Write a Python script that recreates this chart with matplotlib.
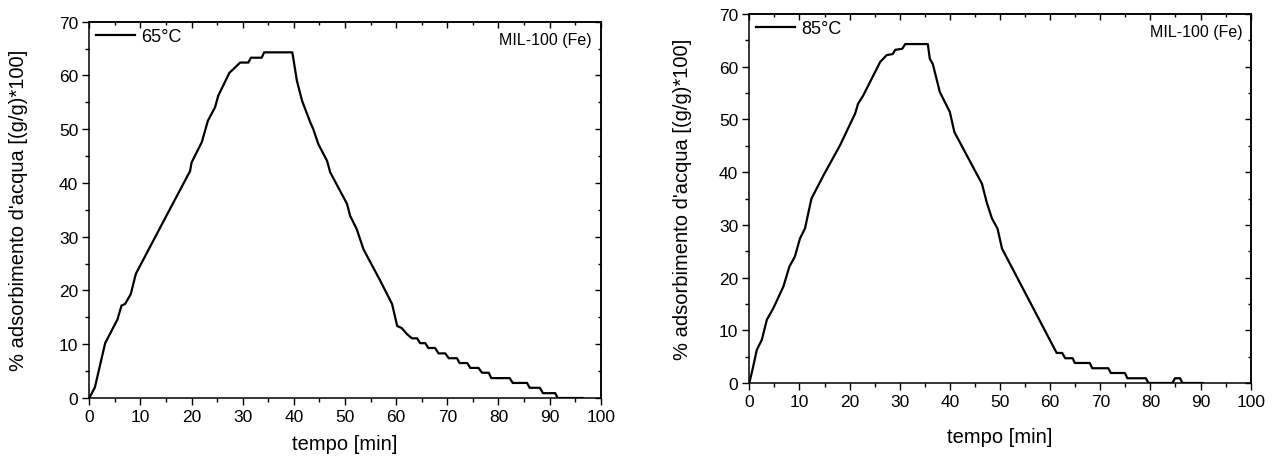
import matplotlib
matplotlib.use("Agg")
import matplotlib.pyplot as plt
from matplotlib.ticker import MultipleLocator

plt.rcParams['font.family'] = ['Liberation Sans', 'DejaVu Sans']

# 65 °C data
t65 = [0, 1.1, 3.1, 5.5, 6.3, 7.0, 8.1, 9.1, 15.8, 19.7, 20.0, 22.0, 23.2, 24.6, 25.2,
       27.4, 28.3, 29.5, 31.1, 31.6, 33.7, 34.2, 39.7, 40.6, 41.6, 42.2, 43.2, 43.8,
       44.8, 46.5, 47.1, 50.4, 51.0, 52.3, 53.6, 54.6, 56.9, 59.2, 60.2, 61.1, 62.1,
       63.1, 64.1, 64.7, 65.7, 66.3, 67.6, 68.3, 69.6, 70.3, 71.9, 72.4, 73.9, 74.5,
       76.1, 76.8, 78.1, 78.6, 82.2, 82.8, 85.6, 86.1, 88.1, 88.7, 91.1, 91.6, 96.5]
y65 = [0, 2.0, 10.2, 14.6, 17.2, 17.5, 19.3, 23.1, 35.2, 42.2, 43.8, 47.6, 51.6, 54.1, 56.2,
       60.5, 61.3, 62.4, 62.4, 63.3, 63.3, 64.3, 64.3, 59.0, 55.3, 53.8, 51.3, 50.0,
       47.2, 44.1, 42.0, 36.1, 33.9, 31.4, 27.7, 25.9, 21.8, 17.5, 13.4, 13.0, 11.9,
       11.1, 11.1, 10.2, 10.2, 9.3, 9.3, 8.3, 8.3, 7.4, 7.4, 6.5, 6.5, 5.6,
       5.6, 4.7, 4.7, 3.7, 3.7, 2.8, 2.8, 1.9, 1.9, 0.9, 0.9, 0, 0]

# 85 °C data
t85 = [0, 0.7, 1.5, 2.5, 3.5, 4.8, 6.8, 8.0, 9.1, 10.1, 11.1, 12.4, 14.8, 18.1, 21.1, 21.7,
       22.7, 26.1, 26.7, 27.4, 28.6, 29.1, 30.5, 31.1, 35.6, 36.0, 36.6, 38.0, 40.0, 40.9,
       46.4, 47.4, 48.4, 49.5, 50.4, 61.3, 62.4, 63.0, 64.5, 64.9, 67.9, 68.4, 71.6,
       72.1, 74.9, 75.4, 79.1, 79.6, 84.4, 84.9, 85.9, 86.4, 90.4]
y85 = [0, 2.8, 6.3, 8.2, 12.0, 14.2, 18.3, 22.1, 24.0, 27.4, 29.3, 35.0, 39.4, 45.1, 51.1, 53.0,
       54.5, 60.9, 61.5, 62.2, 62.4, 63.2, 63.4, 64.3, 64.3, 61.5, 60.5, 55.2, 51.4, 47.6,
       37.8, 34.1, 31.2, 29.3, 25.5, 5.7, 5.7, 4.7, 4.7, 3.8, 3.8, 2.8, 2.8,
       1.9, 1.9, 0.9, 0.9, 0, 0, 0.9, 0.9, 0, 0]

label65 = "65°C"
label85 = "85°C"
material = "MIL-100 (Fe)"
xlabel = "tempo [min]"
ylabel = "% adsorbimento d'acqua [(g/g)*100]"

fig = plt.figure(figsize=(12.79, 4.64), dpi=100)
ax1 = fig.add_axes([89.3/1279, 65/464, 511.4/1279, 376.3/464])
ax2 = fig.add_axes([749.3/1279, 80/464, 501.4/1279, 369/464])

setups = [(ax1, t65, y65, label65, -0.139, -0.122),
          (ax2, t85, y85, label85, -0.134, -0.146)]

for ax, t, y, lab, ylx, xly in setups:
    ax.plot(t, y, color='black', lw=1.6, label=lab)
    ax.set_xlim(0, 100)
    ax.set_ylim(0, 70)
    ax.xaxis.set_major_locator(MultipleLocator(10))
    ax.xaxis.set_minor_locator(MultipleLocator(5))
    ax.yaxis.set_major_locator(MultipleLocator(10))
    ax.yaxis.set_minor_locator(MultipleLocator(5))
    ax.tick_params(which='both', direction='out', labelsize=12.5, width=1, pad=3)
    ax.tick_params(which='major', length=5)
    ax.tick_params(which='minor', length=3)
    # mirrored ticks on top and right, pointing inward, no labels
    axt = ax.secondary_xaxis('top')
    axt.xaxis.set_major_locator(MultipleLocator(10))
    axt.xaxis.set_minor_locator(MultipleLocator(5))
    axt.tick_params(which='both', direction='in', labeltop=False, width=1)
    axt.tick_params(which='major', length=4)
    axt.tick_params(which='minor', length=2)
    axr = ax.secondary_yaxis('right')
    axr.yaxis.set_major_locator(MultipleLocator(10))
    axr.yaxis.set_minor_locator(MultipleLocator(5))
    axr.tick_params(which='both', direction='in', labelright=False, width=1)
    axr.tick_params(which='major', length=4)
    axr.tick_params(which='minor', length=2)
    for s in list(ax.spines.values()) + list(axt.spines.values()) + list(axr.spines.values()):
        s.set_linewidth(1.1)
    ax.set_xlabel(xlabel, fontsize=14.5, va='center')
    ax.xaxis.set_label_coords(0.5, xly)
    ax.set_ylabel(ylabel, fontsize=14.5, va='center')
    ax.yaxis.set_label_coords(ylx, 0.5)
    ax.legend(loc='upper left', frameon=False, fontsize=13, handlelength=2.2,
              handletextpad=0.3, borderaxespad=0.15, borderpad=0.2)
    ax.text(0.983, 0.972, material, transform=ax.transAxes, ha='right', va='top',
            fontsize=11.5)

fig.savefig("out.png", dpi=100)
